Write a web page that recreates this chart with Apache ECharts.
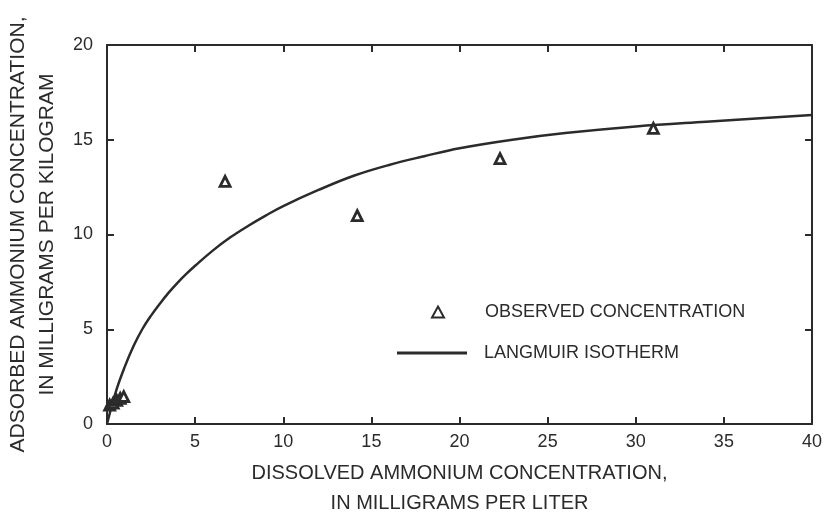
<!DOCTYPE html>
<html>
<head>
<meta charset="utf-8">
<script src="https://cdn.jsdelivr.net/npm/echarts@6/dist/echarts.min.js"></script>
<style>
  html, body { margin: 0; padding: 0; background: #fff; }
  #chart { width: 824px; height: 514px; }
</style>
</head>
<body>
<div id="chart"></div>
<script>
// observed points (dissolved mg/L, adsorbed mg/kg)
const observedX = [0.15, 0.35, 0.55, 0.75, 0.95, 6.7, 14.2, 22.3, 31.0];
const observedY = [1.0, 1.1, 1.25, 1.35, 1.45, 12.8, 11.0, 14.0, 15.6];

// langmuir curve
const curveX = [0, 0.5, 1, 1.5, 2, 2.5, 3, 3.5, 4, 4.5, 5, 6, 7, 8, 9, 10, 12, 14, 16, 18, 20, 23, 26, 30, 34, 40];
const curveY = [0, 1.7, 3.0, 4.1, 5.0, 5.72, 6.35, 6.93, 7.45, 7.92, 8.35, 9.15, 9.85, 10.45, 11.0, 11.5, 12.35, 13.1, 13.67, 14.13, 14.55, 15.0, 15.35, 15.7, 15.95, 16.3];

const xTicks = [0, 5, 10, 15, 20, 25, 30, 35, 40];
const yTicks = [0, 5, 10, 15, 20];

const ink = '#2b2b2b';
const font = 'Liberation Sans';

const chart = echarts.init(document.getElementById('chart'));

function axisBase(extra) {
  return Object.assign({
    type: 'value',
    axisLine: { show: true, onZero: false, lineStyle: { color: ink, width: 2 } },
    axisTick: { show: true, inside: true, length: 7, lineStyle: { color: ink, width: 2 } },
    splitLine: { show: false }
  }, extra);
}

chart.setOption({
  animation: false,
  backgroundColor: '#fff',
  textStyle: { fontFamily: font, color: ink },
  grid: { left: 107, right: 12, top: 45, bottom: 90, containLabel: false, outerBoundsMode: 'none' },
  legend: [
    {
      data: ['OBSERVED CONCENTRATION'],
      left: 426, top: 298,
      itemWidth: 12, itemHeight: 11,
      textStyle: { fontFamily: font, fontSize: 18, color: ink, padding: [0, 0, 0, 36] }
    },
    {
      data: [{ name: 'LANGMUIR ISOTHERM', icon: 'rect' }],
      left: 392, top: 339,
      itemWidth: 70, itemHeight: 3,
      textStyle: { fontFamily: font, fontSize: 18, color: ink, padding: [0, 0, 0, 12] }
    }
  ],
  xAxis: [
    axisBase({
      min: 0, max: 40, interval: 5,
      position: 'bottom',
      name: 'DISSOLVED AMMONIUM CONCENTRATION,\nIN MILLIGRAMS PER LITER',
      nameLocation: 'middle',
      nameGap: 34,
      nameTextStyle: { fontFamily: font, fontSize: 20, color: ink, lineHeight: 30, verticalAlign: 'top' },
      axisLabel: { fontFamily: font, fontSize: 18, color: ink, margin: 9,
        formatter: v => xTicks.includes(v) ? String(v) : '' }
    }),
    axisBase({
      min: 0, max: 40, interval: 5,
      position: 'top',
      axisLabel: { show: false }
    })
  ],
  yAxis: [
    axisBase({
      min: 0, max: 20, interval: 5,
      position: 'left',
      name: 'ADSORBED AMMONIUM CONCENTRATION,\nIN MILLIGRAMS PER KILOGRAM',
      nameLocation: 'middle',
      nameGap: 38,
      nameTextStyle: { fontFamily: font, fontSize: 21, color: ink, lineHeight: 29 },
      axisLabel: { fontFamily: font, fontSize: 18, color: ink, margin: 14,
        formatter: v => yTicks.includes(v) ? String(v) : '' }
    }),
    axisBase({
      min: 0, max: 20, interval: 5,
      position: 'right',
      axisLabel: { show: false }
    })
  ],
  series: [
    {
      name: 'OBSERVED CONCENTRATION',
      type: 'scatter',
      symbol: 'triangle',
      symbolSize: 10,
      itemStyle: { color: '#fff', borderColor: ink, borderWidth: 2.8, opacity: 1 },
      data: observedX.map((x, i) => [x, observedY[i]]),
      z: 3
    },
    {
      name: 'LANGMUIR ISOTHERM',
      type: 'line',
      smooth: 0.4,
      symbol: 'none',
      lineStyle: { color: ink, width: 2.5 },
      itemStyle: { color: ink },
      data: curveX.map((x, i) => [x, curveY[i]]),
      z: 2
    }
  ]
});
</script>
</body>
</html>
